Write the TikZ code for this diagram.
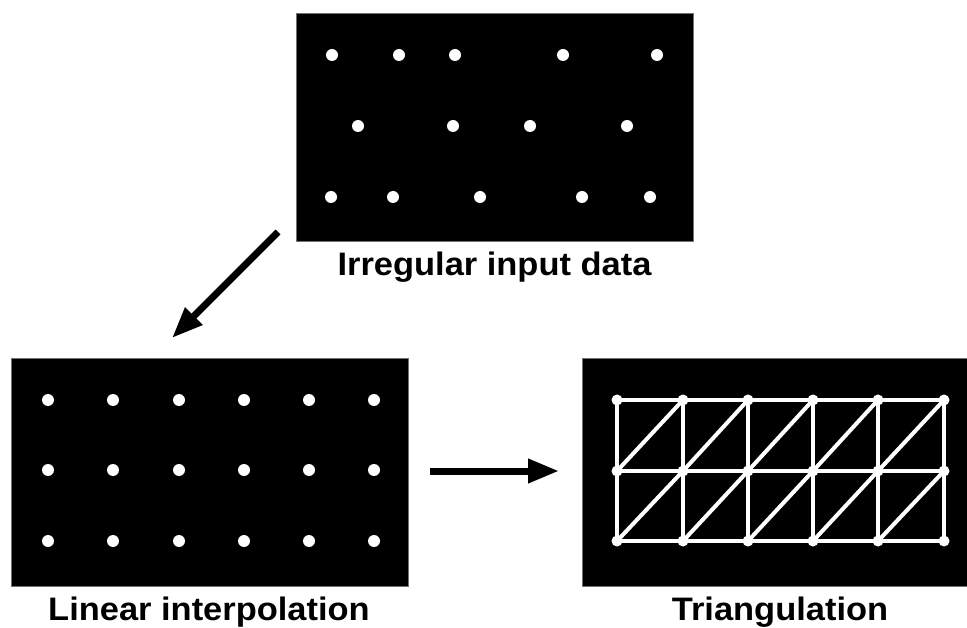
\documentclass[tikz,border=0pt]{standalone}
\usepackage{fontspec}
\setmainfont{Liberation Sans}
\newfontfamily\capfont[FakeStretch=1.06]{Liberation Sans}
\usetikzlibrary{arrows.meta}
\tikzset{
  panel/.style={fill=black, draw=black!55, line width=0.8pt, inner sep=0pt,
    minimum width=397pt, minimum height=228pt},
  dot/.style={fill=white},
  caption/.style={font=\capfont\bfseries\fontsize{32.5}{38}\selectfont,
    anchor=base, inner sep=0pt},
  flow/.style={line width=7pt, -{Triangle[length=31pt,width=23pt]}},
  mesh/.style={white, line width=4pt, line cap=round}
}
\begin{document}
\begin{tikzpicture}[x=1pt,y=-1pt]
  \useasboundingbox (0,0) rectangle (967,628);
  % the three panels
  \node[panel] (irregular) at (494.5,127) {};
  \node[panel] (linear) at (210,472) {};
  \node[panel] (tri) at (780.5,472) {};
  % captions
  \node[caption] (irrtext) at (494.5,276) {Irregular input data};
  \node[caption] (lintext) at (209,620) {Linear interpolation};
  \node[caption] (tritext) at (780,620) {Triangulation};
  % irregular samples
  \foreach \x/\y in {332/55,399/55,455/55,563/55,657/55,
                     358/126,453/126,530/126,627/126,
                     331/197,393/197,480/197,582/197,650/197}
    \fill[dot] (\x,\y) circle (6pt);
  % regular grid
  \foreach \x in {48,113,179,244,309,374}
    \foreach \y in {400,470,541}
      \fill[dot] (\x,\y) circle (6pt);
  % mesh points
  \foreach \x [count=\i] in {617,683,748,813,878,944}
    \foreach \y [count=\j] in {400,471,541}
      \coordinate (t\i\j) at (\x,\y);
  \foreach \j in {1,2,3}
    \draw[mesh] (t1\j) -- (t6\j);
  \foreach \i in {1,...,6}
    \draw[mesh] (t\i1) -- (t\i3);
  \foreach \i/\k in {1/2,2/3,3/4,4/5,5/6}
    \foreach \j/\m in {1/2,2/3}
      \draw[mesh] (t\i\m) -- (t\k\j);
  \foreach \i in {1,...,6}
    \foreach \j in {1,2,3}
      \fill[dot] (t\i\j) circle (5.5pt);
  % arrows
  \coordinate (downstart) at (278,232);
  \coordinate (downend) at (172,338);
  \coordinate (rightstart) at (430,471);
  \coordinate (rightend) at (559,471);
  \draw[flow] (downstart) -- (downend);
  \draw[flow] (rightstart) -- (rightend);
\end{tikzpicture}
\end{document}
